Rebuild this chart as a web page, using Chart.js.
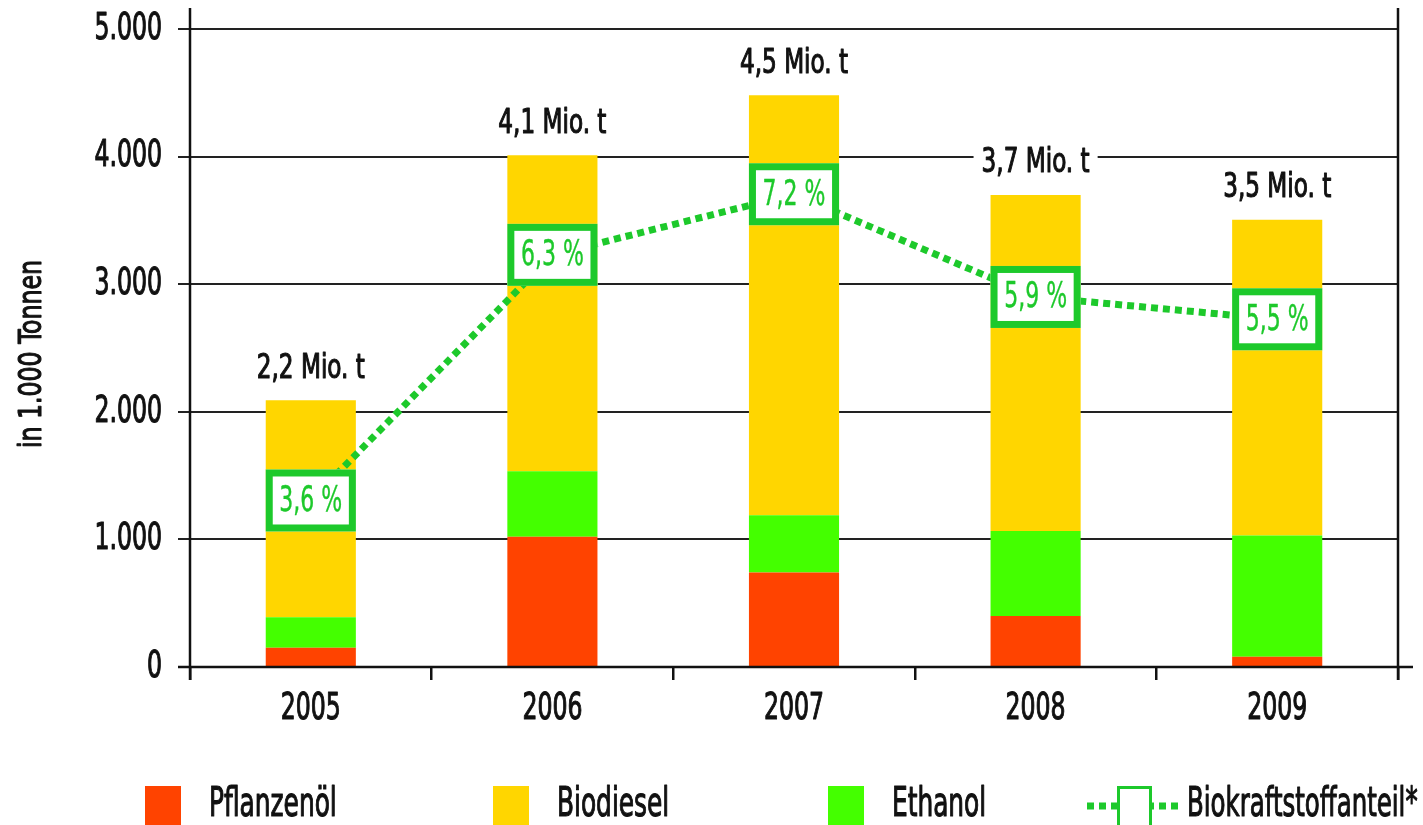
<!DOCTYPE html>
<html>
<head>
<meta charset="utf-8">
<script src="https://cdn.jsdelivr.net/npm/chart.js@4"></script>
<style>
  html, body { margin: 0; padding: 0; background: #fff; }
  #wrap { width: 1423px; height: 825px; }
</style>
</head>
<body>
<div id="wrap"><canvas id="chart"></canvas></div>
<script>
// data (1.000 t)
const years = ['2005', '2006', '2007', '2008', '2009'];
const pflanzenoel = [150, 1020, 740, 400, 80];
const ethanol = [240, 515, 450, 665, 950];
const biodiesel = [1700, 2475, 3290, 2635, 2475];
const totalLabels = ['2,2 Mio. t', '4,1 Mio. t', '4,5 Mio. t', '3,7 Mio. t', '3,5 Mio. t'];
// Biokraftstoffanteil: where the boxes sit on the 1.000 t scale, and their text
const anteilPos = [1305, 3230, 3705, 2900, 2725];
const anteilLabels = ['3,6 %', '6,3 %', '7,2 %', '5,9 %', '5,5 %'];
const yMax = 5000;
const yStep = 1000;

const RED = '#ff4300';
const YELLOW = '#ffd600';
const LIME = '#44ff00';
const GREEN = '#1dc92b';
const FONT = '"DejaVu Sans Condensed", "DejaVu Sans", sans-serif';

// the original uses a very narrow medium face: squeeze regular text sideways
// and thicken it a little with a thin outline
function narrowText(ctx, text, x, y, size, align, sx, color, outline) {
    ctx.save();
    ctx.translate(x, y);
    ctx.scale(sx, 1);
    ctx.font = size + 'px ' + FONT;
    ctx.textAlign = align;
    ctx.textBaseline = 'middle';
    ctx.fillStyle = color;
    ctx.fillText(text, 0, 0);
    if (outline !== 0) {
        ctx.strokeStyle = color;
        ctx.lineWidth = outline || 1.1;
        ctx.lineJoin = 'round';
        ctx.strokeText(text, 0, 0);
    }
    ctx.restore();
}

function textWidth(ctx, text, size, sx) {
    ctx.save();
    ctx.font = size + 'px ' + FONT;
    const w = ctx.measureText(text).width * sx;
    ctx.restore();
    return w;
}

const markPlugin = {
    id: 'marks',
    afterDatasetsDraw(chart) {
        const ctx = chart.ctx;
        const top = chart.getDatasetMeta(2).data;
        // totals above the bars
        top.forEach((bar, i) => {
            const y = bar.y - 31;
            const w = textWidth(ctx, totalLabels[i], 33, 0.78) + 16;
            ctx.fillStyle = '#fff';
            ctx.fillRect(bar.x - w / 2, y - 18, w, 36);
            narrowText(ctx, totalLabels[i], bar.x, y, 33, 'center', 0.78, '#111');
        });

        // % boxes on the dotted line
        const pts = chart.getDatasetMeta(3).data;
        pts.forEach((p, i) => {
            const bw = top[i].width;
            const bh = 62;
            ctx.fillStyle = '#fff';
            ctx.fillRect(p.x - bw / 2, p.y - bh / 2, bw, bh);
            ctx.strokeStyle = GREEN;
            ctx.lineWidth = 7;
            ctx.strokeRect(p.x - bw / 2 + 3.5, p.y - bh / 2 + 3.5, bw - 7, bh - 7);
            narrowText(ctx, anteilLabels[i], p.x, p.y + 1, 36, 'center', 0.68, GREEN, 0.4);
        });
    },
    afterDraw(chart) {
        const ctx = chart.ctx;
        const a = chart.chartArea;
        const xs = chart.scales.x;
        const ys = chart.scales.y;
        ctx.save();
        ctx.strokeStyle = '#111';
        ctx.lineWidth = 2.5;
        ctx.beginPath();
        // y axis, right frame, x axis
        ctx.moveTo(a.left, 8); ctx.lineTo(a.left, a.bottom + 13);
        ctx.moveTo(a.right, 8); ctx.lineTo(a.right, a.bottom + 13);
        ctx.moveTo(a.left - 12, a.bottom); ctx.lineTo(a.right + 15, a.bottom);
        ctx.stroke();
        ctx.restore();

        // tick labels from the scales
        ys.ticks.forEach((t, i) => {
            narrowText(ctx, t.label, 162, ys.getPixelForTick(i), 38, 'right', 0.69, '#111');
        });
        xs.ticks.forEach((t, i) => {
            narrowText(ctx, xs.getLabelForValue(t.value), xs.getPixelForTick(i), 709, 38, 'center', 0.69, '#111');
        });

        // axis title
        ctx.save();
        ctx.translate(33, (a.top + a.bottom) / 2 + 6);
        ctx.rotate(-Math.PI / 2);
        narrowText(ctx, 'in 1.000 Tonnen', 0, 0, 32, 'center', 0.82, '#111');
        ctx.restore();

        // legend
        const ly = 806;
        const items = [
            { x: 145, color: RED, text: 'Pflanzenöl' },
            { x: 493, color: YELLOW, text: 'Biodiesel' },
            { x: 828, color: LIME, text: 'Ethanol' }
        ];
        items.forEach(it => {
            ctx.fillStyle = it.color;
            ctx.fillRect(it.x, 786, 36, 40);
            narrowText(ctx, it.text, it.x + 64, ly, 40, 'left', 0.69, '#111');
        });
        ctx.save();
        ctx.strokeStyle = GREEN;
        ctx.lineWidth = 7;
        ctx.setLineDash([7, 5]);
        ctx.beginPath();
        ctx.moveTo(1087, ly); ctx.lineTo(1183, ly);
        ctx.stroke();
        ctx.setLineDash([]);
        ctx.fillStyle = '#fff';
        ctx.fillRect(1117, 786, 35, 40);
        ctx.lineWidth = 3;
        ctx.strokeRect(1118.5, 787.5, 32, 40);
        ctx.restore();
        narrowText(ctx, 'Biokraftstoffanteil*', 1187, ly, 40, 'left', 0.68, '#111');
    }
};

new Chart(document.getElementById('chart'), {
    type: 'bar',
    data: {
        labels: years,
        datasets: [
            { label: 'Pflanzenöl', data: pflanzenoel, backgroundColor: RED, order: 1 },
            { label: 'Ethanol', data: ethanol, backgroundColor: LIME, order: 1 },
            { label: 'Biodiesel', data: biodiesel, backgroundColor: YELLOW, order: 1 },
            {
                type: 'line',
                label: 'Biokraftstoffanteil*',
                data: anteilPos,
                yAxisID: 'y2',
                borderColor: GREEN,
                borderWidth: 7,
                borderDash: [7, 5],
                borderCapStyle: 'butt',
                pointRadius: 0,
                tension: 0,
                fill: false,
                order: 0
            }
        ]
    },
    options: {
        responsive: true,
        maintainAspectRatio: false,
        animation: false,
        layout: { padding: { left: 0, right: 25, top: 29, bottom: 0 } },
        plugins: {
            legend: { display: false },
            tooltip: { enabled: false }
        },
        datasets: {
            bar: { categoryPercentage: 1, barPercentage: 0.373 }
        },
        scales: {
            x: {
                stacked: true,
                offset: true,
                grid: {
                    offset: true,
                    drawOnChartArea: false,
                    tickLength: 13,
                    color: '#111',
                    lineWidth: 2.5
                },
                border: { display: false },
                ticks: { display: false },
                afterFit(scale) { scale.height = 158; }
            },
            y: {
                stacked: true,
                min: 0,
                max: yMax,
                grid: {
                    color: '#222',
                    lineWidth: 2,
                    tickLength: 12
                },
                border: { display: false },
                ticks: {
                    display: false,
                    stepSize: yStep,
                    callback: v => v.toLocaleString('de-DE')
                },
                afterFit(scale) { scale.width = 190; }
            },
            y2: {
                display: false,
                min: 0,
                max: yMax
            }
        }
    },
    plugins: [markPlugin]
});
</script>
</body>
</html>
